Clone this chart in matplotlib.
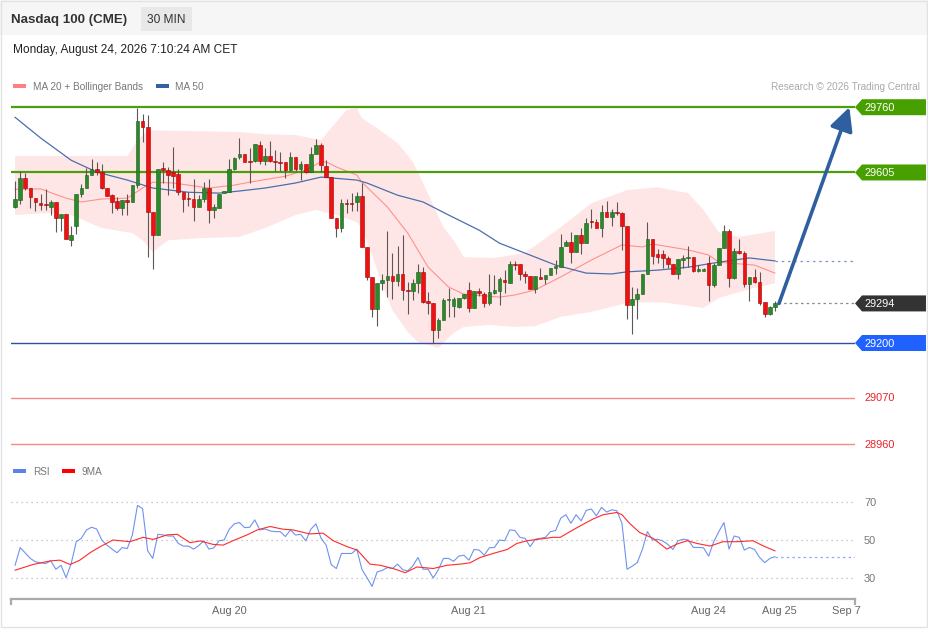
import numpy as np
import matplotlib
matplotlib.use("Agg")
import matplotlib.pyplot as plt
from matplotlib.patches import Polygon, Rectangle

plt.rcParams['font.family'] = ['Liberation Sans', 'DejaVu Sans']

# Nasdaq 100 (CME), 30 min candles
opens = [29522, 29539, 29593, 29569, 29545, 29533, 29531, 29523, 29535, 29496,
         29506, 29444, 29478, 29555, 29567, 29599, 29613, 29607, 29569, 29551,
         29537, 29521, 29539, 29535, 29575, 29727, 29713, 29512, 29456, 29616,
         29612, 29607, 29601, 29559, 29542, 29542, 29523, 29541, 29567, 29516,
         29520, 29557, 29559, 29613, 29641, 29648, 29633, 29633, 29671, 29632,
         29644, 29632, 29630, 29630, 29610, 29642, 29614, 29626, 29607, 29648,
         29670, 29621, 29595, 29498, 29474, 29533, 29533, 29534, 29550, 29429,
         29357, 29280, 29343, 29349, 29359, 29348, 29365, 29327, 29323, 29342,
         29369, 29300, 29296, 29231, 29255, 29302, 29288, 29286, 29306, 29326,
         29282, 29323, 29316, 29296, 29319, 29324, 29349, 29343, 29387, 29387,
         29364, 29359, 29328, 29357, 29353, 29361, 29379, 29381, 29430, 29440,
         29417, 29456, 29438, 29490, 29487, 29474, 29512, 29500, 29510, 29508,
         29478, 29290, 29304, 29316, 29365, 29446, 29411, 29411, 29401, 29387,
         29365, 29398, 29401, 29405, 29372, 29372, 29391, 29338, 29385, 29425,
         29466, 29355, 29419, 29414, 29339, 29357, 29346, 29298, 29270, 29286]
highs = [29584, 29608, 29604, 29569, 29545, 29553, 29565, 29539, 29535, 29506,
         29506, 29478, 29555, 29577, 29616, 29638, 29630, 29626, 29569, 29555,
         29547, 29539, 29555, 29575, 29757, 29745, 29741, 29512, 29614, 29630,
         29618, 29666, 29614, 29559, 29559, 29590, 29551, 29583, 29589, 29531,
         29555, 29561, 29636, 29642, 29687, 29648, 29664, 29672, 29680, 29664,
         29680, 29658, 29654, 29630, 29654, 29642, 29632, 29626, 29666, 29684,
         29674, 29634, 29595, 29498, 29541, 29543, 29557, 29559, 29580, 29429,
         29357, 29343, 29365, 29467, 29413, 29431, 29456, 29346, 29353, 29387,
         29381, 29322, 29296, 29259, 29306, 29331, 29310, 29308, 29316, 29346,
         29323, 29330, 29322, 29365, 29361, 29356, 29373, 29395, 29395, 29387,
         29372, 29359, 29359, 29379, 29361, 29379, 29398, 29459, 29444, 29464,
         29456, 29472, 29498, 29518, 29494, 29527, 29537, 29518, 29535, 29512,
         29478, 29334, 29330, 29365, 29488, 29446, 29423, 29421, 29406, 29387,
         29399, 29409, 29430, 29405, 29385, 29377, 29406, 29389, 29425, 29480,
         29470, 29425, 29448, 29418, 29357, 29375, 29369, 29298, 29288, 29300]
lows = [29520, 29530, 29563, 29520, 29513, 29517, 29516, 29504, 29463, 29466,
        29447, 29430, 29460, 29547, 29567, 29599, 29599, 29565, 29550, 29509,
        29517, 29505, 29505, 29534, 29567, 29678, 29405, 29375, 29456, 29579,
        29551, 29569, 29551, 29510, 29525, 29490, 29523, 29535, 29484, 29496,
        29520, 29557, 29559, 29610, 29638, 29629, 29580, 29630, 29625, 29622,
        29630, 29609, 29608, 29593, 29609, 29609, 29587, 29603, 29607, 29648,
        29607, 29595, 29498, 29452, 29464, 29509, 29513, 29514, 29429, 29349,
        29262, 29240, 29326, 29310, 29304, 29335, 29302, 29270, 29302, 29318,
        29294, 29269, 29199, 29211, 29255, 29262, 29262, 29282, 29304, 29274,
        29282, 29311, 29286, 29290, 29316, 29290, 29319, 29343, 29373, 29349,
        29343, 29328, 29318, 29351, 29339, 29361, 29365, 29381, 29430, 29391,
        29417, 29411, 29438, 29472, 29472, 29452, 29500, 29478, 29505, 29421,
        29256, 29221, 29258, 29316, 29365, 29387, 29389, 29377, 29377, 29364,
        29352, 29377, 29381, 29368, 29369, 29370, 29300, 29334, 29385, 29425,
        29334, 29353, 29411, 29332, 29300, 29342, 29290, 29261, 29266, 29277]
closes = [29541, 29593, 29569, 29546, 29534, 29527, 29527, 29535, 29496, 29506,
          29447, 29456, 29555, 29567, 29599, 29613, 29607, 29567, 29550, 29535,
          29520, 29539, 29535, 29575, 29727, 29713, 29512, 29456, 29614, 29612,
          29599, 29596, 29559, 29541, 29541, 29523, 29541, 29567, 29516, 29523,
          29555, 29561, 29614, 29640, 29648, 29629, 29630, 29672, 29632, 29644,
          29632, 29629, 29628, 29610, 29642, 29614, 29626, 29607, 29648, 29670,
          29622, 29595, 29498, 29474, 29533, 29530, 29530, 29550, 29429, 29357,
          29280, 29343, 29349, 29359, 29348, 29365, 29327, 29323, 29342, 29369,
          29298, 29296, 29231, 29255, 29302, 29304, 29304, 29306, 29316, 29282,
          29323, 29318, 29296, 29322, 29326, 29352, 29345, 29387, 29385, 29363,
          29360, 29328, 29359, 29353, 29361, 29379, 29383, 29429, 29440, 29417,
          29456, 29438, 29485, 29487, 29472, 29512, 29500, 29512, 29508, 29478,
          29290, 29304, 29316, 29365, 29446, 29407, 29405, 29402, 29387, 29365,
          29399, 29402, 29405, 29371, 29375, 29375, 29338, 29385, 29425, 29466,
          29355, 29419, 29413, 29339, 29357, 29346, 29296, 29270, 29286, 29294]

# MA 20 + Bollinger bands, MA 50 (read at candle positions)
bb_up_pos = [0, 7, 17, 22, 24, 26, 36, 44, 49, 55, 60, 63, 65, 67, 68, 71, 75, 78,
             80, 84, 86, 88, 94, 100, 107, 113, 120, 126, 132, 135, 138, 142, 149]
bb_up = [29644, 29644, 29644, 29644, 29682, 29705, 29703, 29701, 29696, 29694,
         29682, 29725, 29753, 29758, 29734, 29710, 29675, 29630, 29580, 29475,
         29444, 29404, 29402, 29414, 29475, 29532, 29563, 29570, 29556, 29516,
         29463, 29452, 29466]
bb_lo_pos = [0, 7, 11, 17, 23, 25, 27, 30, 36, 44, 49, 55, 59, 63, 67, 68, 70, 72,
             74, 77, 79, 83, 86, 88, 93, 98, 102, 107, 113, 120, 125, 128, 135, 138,
             145, 149]
bb_lo = [29504, 29509, 29504, 29473, 29461, 29444, 29416, 29444, 29449, 29452,
         29473, 29504, 29516, 29504, 29487, 29473, 29409, 29338, 29278, 29226,
         29202, 29188, 29224, 29238, 29243, 29238, 29240, 29262, 29274, 29295,
         29297, 29295, 29283, 29307, 29331, 29342]
ma20_pos = [0, 5, 10, 13, 17, 22, 25, 27, 31, 34, 38, 43, 46, 53, 57, 60, 61, 63,
            67, 68, 73, 77, 81, 85, 88, 95, 98, 102, 107, 113, 119, 123, 125, 132,
            136, 138, 145, 149]
ma20 = [29565, 29566, 29544, 29535, 29542, 29544, 29568, 29582, 29580, 29575,
        29568, 29575, 29582, 29596, 29611, 29630, 29630, 29618, 29599, 29582,
        29523, 29461, 29380, 29333, 29316, 29309, 29314, 29326, 29357, 29397,
        29433, 29428, 29435, 29421, 29409, 29392, 29385, 29366]
ma50_pos = [0, 5, 11, 16, 22, 27, 34, 40, 44, 49, 55, 60, 67, 69, 75, 80, 85, 91,
            95, 102, 106, 112, 117, 120, 126, 132, 138, 144, 149]
ma50 = [29736, 29687, 29634, 29606, 29587, 29568, 29558, 29556, 29561, 29568,
        29580, 29594, 29587, 29580, 29551, 29535, 29504, 29468, 29437, 29404,
        29385, 29366, 29364, 29369, 29373, 29380, 29392, 29402, 29395]

# RSI and its 9 MA
rsi_pos = [0, 1, 3, 4] + list(range(6, 150))
rsi = [36.7, 46, 40.3, 38.5, 37.6, 39, 34.6, 36.7, 30.2, 37.6,
       49.1, 50.9, 55.3, 56.7, 55.8, 50, 47.3, 45.2, 43.3, 46,
       45.5, 52.6, 68.2, 66.5, 44.3, 40.3, 53, 52.7, 52.1, 52.1,
       48.2, 46.8, 46.8, 45.2, 47, 49.6, 45.2, 45.9, 49.6, 50,
       55.7, 58.5, 59.2, 56.5, 56.7, 60.6, 55.3, 55.8, 54.8, 54.4,
       54.4, 51.8, 55.3, 52.6, 53, 49.6, 55.7, 58.5, 50.9, 47.3,
       37, 35, 42.9, 42.9, 42.9, 45.2, 34.6, 30.2, 25.6, 33.2,
       34, 35.5, 35, 37.3, 34.4, 33.7, 36.4, 40.8, 34.6, 34.6,
       30, 34.4, 40.3, 40.3, 38.8, 41.5,
       42, 39.4, 45, 44.7, 42, 45.9, 46.1, 50, 49.6, 55.3,
       55, 51.4, 50.9, 46.5, 50.4, 50.9, 51.4, 54.4, 55, 61.5,
       63.3, 58.8, 63.3, 60.1, 65.6, 66.3, 62.7, 67.2, 64.7, 65.9,
       65.4, 58.8, 34.6, 36.2, 38.1, 45, 54.4, 50, 50.4, 49.5,
       47.7, 45, 49.6, 50.4, 50, 46.1, 46.1, 45.9, 41.5, 49.1,
       54.4, 59.2, 45.2, 52.1, 51.4, 44.7, 46.1, 45, 40.8, 38.1,
       40.3, 41.2]
ma9_pos = [0, 3.5, 6.9, 8.8, 10.8, 12.7, 14.7, 16.7, 19.2, 22.5, 25.1, 27.1, 29.8,
           31.8, 34.3, 36.3, 38.8, 40.8, 42.7, 45.5, 47.5, 50, 52.5, 54.5, 57.8,
           60.4, 62.4, 65.1, 67.1, 69.6, 71.6, 74.1, 76.5, 78.8, 82, 84.7, 87.3,
           89.2, 91.2, 93.7, 96.5, 98.4, 100.4, 102.9, 105.5, 106.9, 109.4, 110.8,
           113.3, 115.3, 118, 119, 120.6, 122.5, 125.1, 127.8, 129.8, 131.8, 133.7,
           136.3, 138.8, 141.6, 144.7, 146.7, 149]
ma9 = [34.1, 37.1, 39, 39.4, 37.1, 39.4, 43.3, 46.5, 50, 49.1, 51.4, 50.3, 52.7,
       53, 48.6, 49.5, 47.7, 47.3, 49.6, 52.7, 55.3, 57.1, 55.7, 55.3, 53.2,
       53.6, 49.6, 46.5, 44.7, 37.3, 36.7, 35, 32.8, 35.8, 35, 36.7, 37.3,
       38, 40.8, 42.9, 45, 48.2, 49.6, 50.5, 51.4, 51.4, 55.3, 57.4,
       61, 63.3, 64.5, 63.3, 58.5, 53.9, 50.9, 45.2, 47.9, 49.6, 48.2,
       46.8, 49.1, 49.1, 49.6, 46.9, 44.3]

# key levels
resistances = [29760, 29605]
supports = [29200, 29070, 28960]
target = 29760

tick_pos = [42, 88.8, 135.9, 149.8, 163.0]
tick_labels = ['Aug 20', 'Aug 21', 'Aug 24', 'Aug 25', 'Sep 7']

W, H = 929, 629
fig = plt.figure(figsize=(W / 100, H / 100), dpi=100)
fig.patch.set_facecolor('white')


def fx(px):
    return px / W


def fy(py):
    return 1 - py / H


# header band and frame
fig.patches.append(Rectangle((0, fy(35)), 1, 35 / H, transform=fig.transFigure,
                             facecolor='#f6f6f6', edgecolor='none', zorder=0))
fig.patches.append(Rectangle((fx(141), fy(31)), 51 / W, 24 / H, transform=fig.transFigure,
                             facecolor='#e8e8e8', edgecolor='none', zorder=1))
fig.patches.append(Rectangle((fx(1), fy(627)), 926 / W, 626 / H, transform=fig.transFigure,
                             facecolor='none', edgecolor='#e2e2e2', lw=1, zorder=1))
fig.text(fx(11), fy(20.5), 'Nasdaq 100 (CME)', fontsize=9.6, fontweight='bold',
         color='#333333', va='center')
fig.text(fx(166.5), fy(20), '30 MIN', fontsize=8.6, color='#333333', va='center', ha='center')
fig.text(fx(13), fy(49.5), 'Monday, August 24, 2026 7:10:24 AM CET', fontsize=8.6,
         color='#222222', va='center')

# legends
fig.patches.append(Rectangle((fx(13), fy(88)), 13 / W, 4 / H, transform=fig.transFigure,
                             facecolor='#ff8080', edgecolor='none'))
fig.text(fx(33), fy(87), 'MA 20 + Bollinger Bands', fontsize=7.2, color='#777777', va='center')
fig.patches.append(Rectangle((fx(156), fy(88)), 13 / W, 4 / H, transform=fig.transFigure,
                             facecolor='#3461a4', edgecolor='none'))
fig.text(fx(175), fy(87), 'MA 50', fontsize=7.2, color='#777777', va='center')
fig.text(fx(920), fy(87), 'Research \u00a9 2026 Trading Central', fontsize=7.2,
         color='#aaaaaa', va='center', ha='right')

fig.patches.append(Rectangle((fx(13), fy(473)), 13 / W, 4 / H, transform=fig.transFigure,
                             facecolor='#5b82e6', edgecolor='none'))
fig.text(fx(33), fy(472), 'RSI', fontsize=7.2, color='#777777', va='center')
fig.patches.append(Rectangle((fx(62), fy(473)), 13 / W, 4 / H, transform=fig.transFigure,
                             facecolor='#ff0000', edgecolor='none'))
fig.text(fx(82), fy(472), '9MA', fontsize=7.2, color='#777777', va='center')

# price panel
ax = fig.add_axes([fx(11), fy(455), fx(855) - fx(11), fy(95) - fy(455)])
ax.set_xlim(-0.8, 164.7)
ax.set_ylim(28934, 29789)
ax.axis('off')
ax.patch.set_alpha(0)

n = len(closes)
idx = np.arange(n)

band_x = bb_up_pos + bb_lo_pos[::-1]
band_y = bb_up + bb_lo[::-1]
ax.add_patch(Polygon(np.column_stack([band_x, band_y]), closed=True,
                     facecolor='#ffe6e6', edgecolor='none', zorder=1))
ax.plot(ma20_pos, ma20, color='#ff9090', lw=0.8, zorder=2)
ax.plot(ma50_pos, ma50, color='#4a6fae', lw=0.9, zorder=2)
ax.plot([ma50_pos[-1], 164.7], [ma50[-1], ma50[-1]], color='#7a94c4', lw=0.9,
        ls=(0, (2, 3)), zorder=2)

for lv in resistances:
    ax.axhline(lv, color='#4c9e0a', lw=1.6, zorder=3)
ax.axhline(supports[0], color='#2f4fa8', lw=1.0, zorder=3)
for lv in supports[1:]:
    ax.axhline(lv, color='#f28a8a', lw=1.0, zorder=3)

# candles
o = np.array(opens)
c = np.array(closes)
up = c >= o
ax.vlines(idx, lows, highs, color='#5f5555', lw=0.8, zorder=4)
body_bot = np.minimum(o, c)
body_h = np.maximum(np.abs(c - o), 2.5)
ax.bar(idx[up], body_h[up], bottom=body_bot[up], width=0.72,
       color='#2a8a2a', edgecolor='#1d5c1d', lw=0.4, zorder=5)
ax.bar(idx[~up], body_h[~up], bottom=body_bot[~up], width=0.72,
       color='#ee1111', edgecolor='#a40000', lw=0.4, zorder=5)

# last price and target arrow
ax.plot([n - 0.4, 164.7], [closes[-1], closes[-1]], color='#888888', lw=0.9,
        ls=(0, (2, 2.5)), zorder=3)
ax.annotate('', xy=(n + 13.6, target), xytext=(n - 0.2, closes[-1]),
            arrowprops=dict(arrowstyle='-|>,head_length=1.0,head_width=0.5',
                            color='#2f5f9f', lw=2.6, mutation_scale=14,
                            shrinkA=0, shrinkB=0), zorder=6)

# right side tags
ytr = ax.get_yaxis_transform()
dy = 8 * (29789 - 28934) / 360.0
x0, x1, x2, xt = 1.0, 1.0083, 1.0841, 1.0107


def tag(level, color):
    pts = [(x0, level), (x1, level + dy), (x2, level + dy), (x2, level - dy), (x1, level - dy)]
    ax.add_patch(Polygon(pts, closed=True, transform=ytr, facecolor=color,
                         edgecolor='none', clip_on=False, zorder=7))
    ax.text(xt, level - 1.5, str(level), transform=ytr, color='white', fontsize=7.9,
            va='center', ha='left', zorder=8)


tag(resistances[0], '#48a000')
tag(resistances[1], '#48a000')
tag(closes[-1], '#333333')
tag(supports[0], '#1f62ff')
for lv in supports[1:]:
    ax.text(xt, lv - 1.5, str(lv), transform=ytr, color='#e8232a', fontsize=7.9,
            va='center', ha='left')

# RSI panel
rx = fig.add_axes([fx(11), fy(599), fx(855) - fx(11), fy(460) - fy(599)])
rx.set_xlim(-0.8, 164.7)
rx.set_ylim(18.95, 92.1)
rx.patch.set_alpha(0)
for s in ['top', 'right', 'left']:
    rx.spines[s].set_visible(False)
rx.spines['bottom'].set_color('#aaaaaa')
rx.spines['bottom'].set_linewidth(1.6)
rx.set_yticks([])
rx.set_xticks(tick_pos)
rx.set_xticklabels(tick_labels, fontsize=7.9, color='#666666')
rx.tick_params(axis='x', length=0, pad=5)
xtr = rx.get_xaxis_transform()
for xe in [-0.8, 164.7]:
    rx.plot([xe, xe], [0, -0.036], transform=xtr, color='#aaaaaa', lw=1.6, clip_on=False)

rtr = rx.get_yaxis_transform()
for g in [70, 50, 30]:
    rx.axhline(g, color='#bbbbbb', lw=0.9, ls=(0, (1, 3)))
    rx.text(xt, g - 0.5, str(g), transform=rtr, color='#777777', fontsize=7.9, va='center')
rx.plot(rsi_pos, rsi, color='#6f92ee', lw=0.8)
rx.plot(ma9_pos, ma9, color='#ff2a2a', lw=0.8)
rx.plot([rsi_pos[-1], 164.7], [rsi[-1], rsi[-1]], color='#8faaf0', lw=0.9, ls=(0, (2, 2.5)))

fig.savefig('out.png', dpi=100)
